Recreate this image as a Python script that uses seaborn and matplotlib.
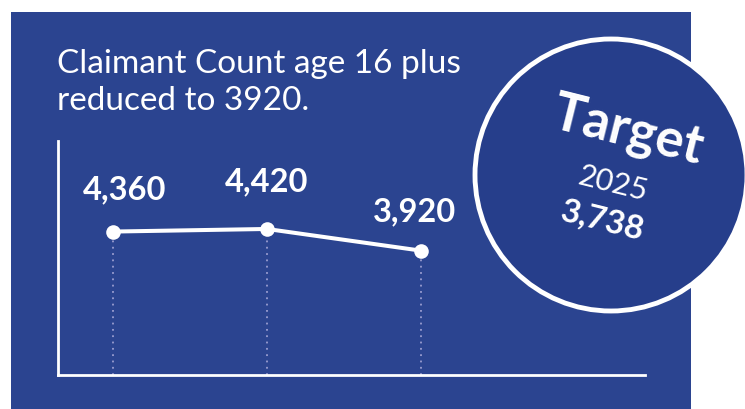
import matplotlib
matplotlib.use("Agg")
import matplotlib.pyplot as plt
import seaborn as sns
import pandas as pd
from matplotlib.patches import Rectangle, Circle

# ---- data ----
points = [0, 1, 2]
values = [4360, 4420, 3920]
labels = ["4,360", "4,420", "3,920"]
title_lines = ["Claimant Count age 16 plus", "reduced to 3920."]
target_word = "Target"
target_year = "2025"
target_value = "3,738"

W, H = 745, 409
BG = "#2b4490"
CIRCLE = "#263e8b"
DOT = "#9a9dd0"

sns.set_theme(style="white")
plt.rcParams["font.family"] = ["Lato", "DejaVu Sans"]

fig = plt.figure(figsize=(W / 100, H / 100), dpi=100)
fig.patch.set_facecolor("white")

# background axes in pixel coordinates
bg = fig.add_axes([0, 0, 1, 1])
bg.set_xlim(0, W)
bg.set_ylim(H, 0)
bg.axis("off")
bg.add_patch(Rectangle((11, 12), 680, 400, facecolor=BG, edgecolor="none"))

bg.text(57, 64, title_lines[0], color="white", fontsize=24, va="center", ha="left")
bg.text(57, 101, title_lines[1], color="white", fontsize=24, va="center", ha="left")

# chart axes: pixels x 58..645, y 141..375
x0, x1, y0, y1 = 58, 645, 141, 375
ax = fig.add_axes([x0 / W, 1 - y1 / H, (x1 - x0) / W, (y1 - y0) / H])
ax.patch.set_alpha(0)
df = pd.DataFrame({"x": points, "v": values})
sns.lineplot(data=df, x="x", y="v", ax=ax, color="white", linewidth=2.9,
             marker="o", markersize=10.5, markeredgewidth=0, zorder=3)
ax.set_xlim(-0.357, 3.455)
ax.set_ylim(1050, 6450)
for xi, vi in zip(points, values):
    ax.plot([xi, xi], [1050, vi], color=DOT, linestyle=(0, (1, 2.5)), linewidth=1.3, zorder=2)
label_off = [(12, 42), (0, 47), (-6, 39)]
for xi, vi, lab, (dx, dy) in zip(points, values, labels, label_off):
    ax.annotate(lab, (xi, vi), xytext=(dx, dy), textcoords="offset pixels",
                color="white", fontsize=23.5, fontweight="bold",
                ha="center", va="center")
ax.set_xticks([])
ax.set_yticks([])
ax.set_xlabel("")
ax.set_ylabel("")
for s in ["top", "right"]:
    ax.spines[s].set_visible(False)
for s in ["left", "bottom"]:
    ax.spines[s].set_color("white")
    ax.spines[s].set_linewidth(2)

# overlay for target circle
ov = fig.add_axes([0, 0, 1, 1])
ov.set_xlim(0, W)
ov.set_ylim(H, 0)
ov.axis("off")
ov.patch.set_alpha(0)
ov.add_patch(Circle((611, 175), 136, facecolor=CIRCLE, edgecolor="white", linewidth=3.5))
ov.text(628, 131, target_word, color="white", fontsize=38, fontweight="bold",
        rotation=-14, ha="center", va="center", rotation_mode="anchor")
ov.text(613, 184, target_year, color="white", fontsize=22, fontweight="normal",
        rotation=-14, ha="center", va="center", rotation_mode="anchor")
ov.text(603, 221, target_value, color="white", fontsize=24, fontweight="bold",
        rotation=-14, ha="center", va="center", rotation_mode="anchor")

fig.savefig("out.png", dpi=100)
